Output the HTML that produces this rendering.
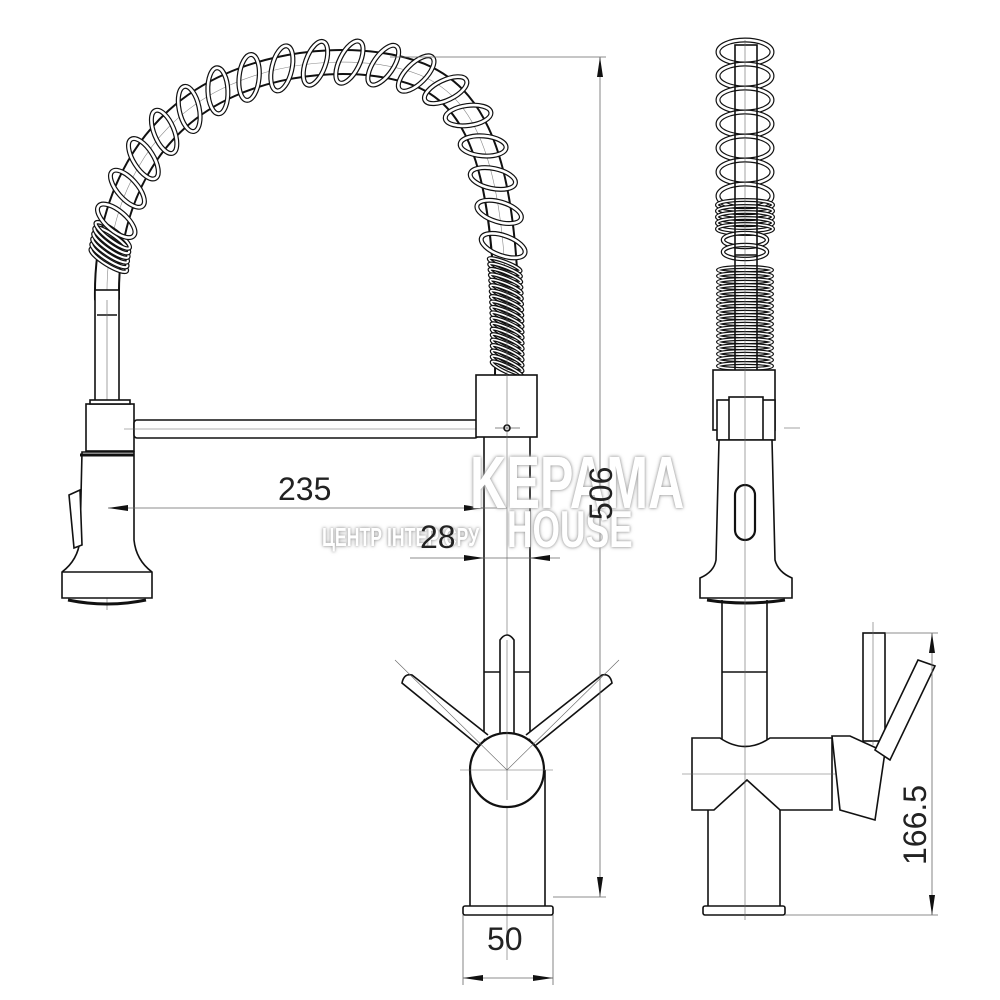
<!DOCTYPE html>
<html><head><meta charset="utf-8"><style>
html,body{margin:0;padding:0;background:#fff;width:1000px;height:1000px;overflow:hidden}
svg{position:absolute;left:0;top:0}
.wm{position:absolute;font-family:"Liberation Sans",sans-serif;font-weight:bold;color:#fff;text-shadow:0 0 3px #999,0 0 6px #bbb;transform:scaleX(0.68);transform-origin:0 0;white-space:nowrap}
</style></head><body>
<svg id="s" width="1000" height="1000" viewBox="0 0 1000 1000" font-family="Liberation Sans, sans-serif">
<g fill="none" stroke="#111" stroke-width="1.6">
<path id="arch" d="M107,300 C105,200 150,120 230,85 C290,58 370,55 420,75 C480,100 510,170 507,375" stroke="#111" stroke-width="26"/>
<path d="M107,300 C105,200 150,120 230,85 C290,58 370,55 420,75 C480,100 510,170 507,375" stroke="#fff" stroke-width="22"/>
<path d="M107,300 C105,200 150,120 230,85 C290,58 370,55 420,75 C480,100 510,170 507,375" stroke="#888" stroke-width="0.6"/>
<g id="coils"></g>
<rect x="95" y="290" width="24" height="113" fill="#fff"/>
<line x1="97" y1="315" x2="117" y2="315"/>
<line x1="107" y1="300" x2="107" y2="610" stroke="#666" stroke-width="0.6"/>
<rect x="86" y="404" width="48" height="47" fill="#fff"/>
<rect x="90" y="400" width="40" height="4" fill="#fff"/>
<rect x="134" y="420" width="344" height="18" rx="3" fill="#fff"/>
<line x1="124" y1="429" x2="490" y2="429" stroke="#666" stroke-width="0.6"/>
<path d="M82,452 L134,452 L134,540 Q136,560 152,572 L152,598 L62,598 L62,572 Q78,560 80,540 Z" fill="#fff"/>
<line x1="80" y1="455" x2="134" y2="455" stroke-width="3"/>
<line x1="62" y1="572" x2="152" y2="572"/>
<path d="M68,600 Q107,608 146,600" stroke-width="3"/>
<path d="M69,495 L80,490 L82,545 L74,548 Z" fill="#fff"/>
<rect x="476" y="375" width="61" height="62" fill="#fff"/>
<circle cx="507" cy="428" r="3"/>
<line x1="495" y1="428" x2="520" y2="428" stroke-width="0.6"/>
<line x1="484" y1="437" x2="484" y2="745"/>
<line x1="530" y1="437" x2="530" y2="745"/>
<line x1="484" y1="672" x2="530" y2="672"/>
<line x1="507" y1="290" x2="507" y2="960" stroke="#666" stroke-width="0.6"/>
<line x1="470" y1="770" x2="470" y2="906"/>
<line x1="545" y1="770" x2="545" y2="906"/>
<rect x="463" y="906" width="90" height="9" rx="2"/>
<path d="M500,735 L500,640 Q507,630 514,640 L514,735" fill="#fff"/>
<path d="M478,745 L402,683 Q404,673 412,675 L488,735" fill="#fff"/>
<path d="M536,745 L612,683 Q610,673 602,675 L526,735" fill="#fff"/>
<circle cx="507" cy="770" r="37" fill="#fff" stroke-width="2.2"/>
<g stroke="#666" stroke-width="0.6"><line x1="395" y1="660" x2="507" y2="770"/><line x1="619" y1="660" x2="507" y2="770"/><line x1="460" y1="770" x2="553" y2="770"/><line x1="507" y1="640" x2="507" y2="800"/></g>

<g id="rcoils"></g>
<rect x="735" y="45" width="22" height="330" fill="none"/>
<line x1="735" y1="255" x2="757" y2="255"/>
<rect x="713" y="370" width="62" height="60" fill="#fff"/>
<rect x="717" y="400" width="14" height="40" fill="#fff"/>
<rect x="761" y="400" width="14" height="40" fill="#fff"/>
<rect x="729" y="397" width="34" height="43" fill="#fff"/>
<path d="M719,440 L772,440 L775,560 Q778,572 792,578 L792,598 L700,598 L700,578 Q714,572 716,560 Z" fill="#fff"/>
<rect x="735" y="485" width="20" height="55" rx="10" stroke-width="2.2"/>
<path d="M707,600 Q745,606 785,600" stroke-width="3"/>
<line x1="722" y1="600" x2="722" y2="742"/>
<line x1="767" y1="600" x2="767" y2="742"/>
<line x1="722" y1="672" x2="767" y2="672"/>
<path d="M692,738 L720,738 Q745,755 770,738 L832,738 L832,810 L780,810 L747,780 L714,810 L692,810 Z" fill="#fff"/>
<line x1="708" y1="810" x2="708" y2="906"/>
<line x1="780" y1="810" x2="780" y2="906"/>
<rect x="703" y="906" width="82" height="9" rx="2"/>
<line x1="745" y1="40" x2="745" y2="920" stroke="#666" stroke-width="0.6"/>
<line x1="682" y1="774" x2="860" y2="774" stroke="#666" stroke-width="0.6"/>
<path d="M832,736 L850,736 L885,752 L875,820 L840,810 Z" fill="#fff"/>
<rect x="863" y="633" width="22" height="108" fill="#fff"/>
<path d="M875,750 L918,660 L935,666 L890,760 Z" fill="#fff"/>
<line x1="873" y1="622" x2="873" y2="745" stroke="#666" stroke-width="0.6"/>
<line x1="784" y1="428" x2="800" y2="428" stroke="#666" stroke-width="0.6"/>
</g>

<g stroke="#666" stroke-width="0.8" fill="none">
<line x1="390" y1="57" x2="606" y2="57"/>
<line x1="600" y1="57" x2="600" y2="897"/>
<line x1="553" y1="897" x2="606" y2="897"/>
<line x1="108" y1="508" x2="507" y2="508"/>
<line x1="410" y1="558" x2="560" y2="558"/>
<line x1="463" y1="915" x2="463" y2="985"/>
<line x1="553" y1="915" x2="553" y2="985"/>
<line x1="463" y1="978" x2="553" y2="978"/>
<line x1="885" y1="633" x2="938" y2="633"/>
<line x1="785" y1="915" x2="938" y2="915"/>
<line x1="932" y1="633" x2="932" y2="915"/>
</g>
<g fill="#111">
<path d="M600,57 L597,77 L603,77Z"/><path d="M600,897 L597,877 L603,877Z"/>
<path d="M108,508 L128,505 L128,511Z"/><path d="M484,508 L464,505 L464,511Z"/>
<path d="M484,558 L464,555 L464,561Z"/><path d="M530,558 L550,555 L550,561Z"/>
<path d="M463,978 L483,975 L483,981Z"/><path d="M553,978 L533,975 L533,981Z"/>
<path d="M932,633 L929,653 L935,653Z"/><path d="M932,915 L929,895 L935,895Z"/>
</g>
</svg>
<div class="wm" style="left:470px;top:440px;font-size:74px">KEPAMA</div>
<div class="wm" style="left:507px;top:500px;font-size:52px">HOUSE</div>
<div class="wm" style="left:322px;top:522px;font-size:26px">ЦЕНТР ІНТЕРʼЄРУ</div>
<svg width="1000" height="1000" viewBox="0 0 1000 1000" font-family="Liberation Sans, sans-serif">
<g fill="#222" font-size="32">
<text x="278" y="500">235</text>
<text x="420" y="548">28</text>
<text x="487" y="950">50</text>
<text transform="translate(612,520) rotate(-90)">506</text>
<text transform="translate(926,865) rotate(-90)">166.5</text>
</g>
</svg>
<script>
(function(){
var ns="http://www.w3.org/2000/svg",p=document.getElementById("arch"),L=p.getTotalLength(),g=document.getElementById("coils");
function el(t,a){var e=document.createElementNS(ns,t);for(var k in a)e.setAttribute(k,a[k]);return e;}
function ring(s,rx,ry,sw){var a=p.getPointAtLength(s),b=p.getPointAtLength(Math.min(L,s+1));var ang=Math.atan2(b.y-a.y,b.x-a.x)*180/Math.PI;
g.appendChild(el("ellipse",{cx:a.x,cy:a.y,rx:ry,ry:rx,transform:"rotate("+(ang+25)+" "+a.x+" "+a.y+")",stroke:"#111","stroke-width":sw,fill:"none"}));
g.appendChild(el("ellipse",{cx:a.x,cy:a.y,rx:ry,ry:rx,transform:"rotate("+(ang+25)+" "+a.x+" "+a.y+")",stroke:"#fff","stroke-width":sw-2.4,fill:"none"}));}
for(var i=0;i<6;i++)ring(40+i*5,21,5,4.5);
for(var s=80;s<L*0.86;s+=34)ring(s,23,10,5);
for(var s2=L*0.86;s2<L-3;s2+=5.5)ring(s2,17,3,4);
var r=document.getElementById("rcoils");
function rr(y,w,h,sw){r.appendChild(el("ellipse",{cx:745,cy:y,rx:w,ry:h,stroke:"#111","stroke-width":sw,fill:"none"}));r.appendChild(el("ellipse",{cx:745,cy:y,rx:w,ry:h,stroke:"#fff","stroke-width":sw-2.4,fill:"none"}));}
for(var y=52;y<200;y+=24)rr(y,27,12,5);
for(var y2=205;y2<232;y2+=6)rr(y2,28,5,4);
for(var y3=240;y3<262;y3+=12)rr(y3,22,7,4.5);
for(var y4=270;y4<370;y4+=6)rr(y4,27,3,4);
})();
</script>
</body></html>
